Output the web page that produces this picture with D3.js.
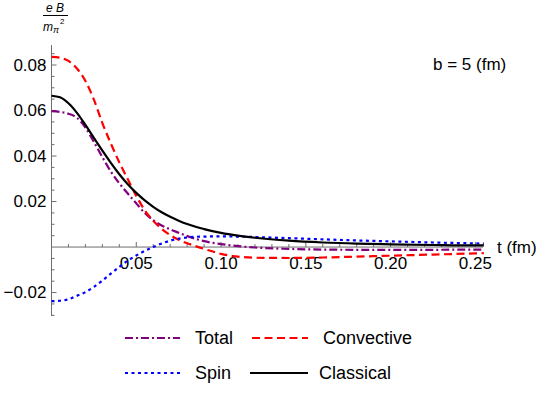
<!DOCTYPE html>
<html>
<head>
<meta charset="utf-8">
<script src="https://cdn.jsdelivr.net/npm/d3@7"></script>
<style>
  body { margin: 0; background: #fff; }
  svg text { font-family: "Liberation Sans", Arial, sans-serif; fill: #000; }
</style>
</head>
<body>
<svg id="chart" width="542" height="396"></svg>
<script>
// ---- data ----
const tValues      = [0, 0.005, 0.01, 0.015, 0.02, 0.025, 0.03, 0.035, 0.04, 0.045, 0.05, 0.055, 0.06, 0.065, 0.07, 0.075, 0.08, 0.085, 0.09, 0.10, 0.11, 0.12, 0.14, 0.16, 0.18, 0.20, 0.225, 0.25, 0.255];
const totalValues  = [0.0597, 0.0594, 0.0586, 0.0568, 0.0525, 0.0462, 0.0395, 0.0332, 0.0280, 0.0235, 0.0192, 0.0150, 0.0118, 0.0095, 0.0078, 0.0063, 0.0048, 0.0036, 0.0026, 0.0013, 0.0004, -0.0002, -0.0008, -0.0011, -0.0012, -0.0012, -0.0012, -0.0011, -0.0011];
const convValues   = [0.0836, 0.0832, 0.0818, 0.0785, 0.0730, 0.0648, 0.0545, 0.0455, 0.0372, 0.0298, 0.0225, 0.0162, 0.0116, 0.0080, 0.0053, 0.0032, 0.0017, 0.0004, -0.0008, -0.0030, -0.0042, -0.0047, -0.0048, -0.0046, -0.0042, -0.0038, -0.0033, -0.0028, -0.0027];
const spinValues   = [-0.0238, -0.0236, -0.0230, -0.0214, -0.0198, -0.0175, -0.0147, -0.0117, -0.0087, -0.0060, -0.0037, -0.0017, 0.0000, 0.0016, 0.0028, 0.0037, 0.0042, 0.0045, 0.0046, 0.0047, 0.0046, 0.0044, 0.0039, 0.0034, 0.0029, 0.0025, 0.0020, 0.0016, 0.0015];
const classValues  = [0.0665, 0.0658, 0.0632, 0.0590, 0.0537, 0.0480, 0.0424, 0.0370, 0.0320, 0.0276, 0.0238, 0.0205, 0.0177, 0.0153, 0.0133, 0.0116, 0.0101, 0.0089, 0.0079, 0.0062, 0.0050, 0.0041, 0.0028, 0.0020, 0.0015, 0.0012, 0.0009, 0.0007, 0.0007];

const xTickValues = [0.05, 0.10, 0.15, 0.20, 0.25];
const xTickLabels = ["0.05", "0.10", "0.15", "0.20", "0.25"];
const yTickValues = [-0.02, 0.02, 0.04, 0.06, 0.08];
const yTickLabels = ["\u22120.02", "0.02", "0.04", "0.06", "0.08"];

const seriesNames  = ["Total", "Convective", "Spin", "Classical"];
const seriesColors = ["#800080", "#ff0000", "#0000ff", "#000000"];
const seriesDash   = ["8,3,2,3", "8,4.5", "3,3.5", null];

// ---- layout ----
const svg = d3.select("#chart");
const x = d3.scaleLinear().domain([0, 0.2545]).range([51.5, 483]);
const y = d3.scaleLinear().domain([-0.0303, 0.0888]).range([316, 45]);
const axisColor = "#6e6e6e";

// axes lines
svg.append("line").attr("x1", x(0)).attr("x2", x(0.2545)).attr("y1", y(0)).attr("y2", y(0))
  .attr("stroke", axisColor).attr("stroke-width", 1);
svg.append("line").attr("x1", x(0)).attr("x2", x(0)).attr("y1", y(-0.0303)).attr("y2", y(0.0888))
  .attr("stroke", axisColor).attr("stroke-width", 1);

// x ticks (inside, pointing up)
const xMinor = d3.range(1, 26).map(i => i * 0.01);
svg.append("g").selectAll("line").data(xMinor).join("line")
  .attr("x1", d => x(d)).attr("x2", d => x(d))
  .attr("y1", y(0)).attr("y2", d => y(0) - (Math.abs(d * 20 - Math.round(d * 20)) < 1e-6 ? 5 : 3))
  .attr("stroke", axisColor).attr("stroke-width", 1);
svg.append("g").selectAll("text").data(xTickValues).join("text")
  .attr("x", d => x(d)).attr("y", y(0) + 16)
  .attr("text-anchor", "middle").attr("dominant-baseline", "central")
  .attr("font-size", 17).text((d, i) => xTickLabels[i]);

// y ticks (inside, pointing right)
const yMinor = d3.range(-6, 18).map(i => i * 0.005).filter(d => Math.abs(d) > 1e-9);
svg.append("g").selectAll("line").data(yMinor).join("line")
  .attr("y1", d => y(d)).attr("y2", d => y(d))
  .attr("x1", x(0)).attr("x2", d => x(0) + (Math.abs(d * 50 - Math.round(d * 50)) < 1e-6 ? 5 : 3))
  .attr("stroke", axisColor).attr("stroke-width", 1);
svg.append("g").selectAll("text").data(yTickValues).join("text")
  .attr("x", x(0) - 5).attr("y", d => y(d))
  .attr("text-anchor", "end").attr("dominant-baseline", "central")
  .attr("font-size", 17).text((d, i) => yTickLabels[i]);

// axis titles
svg.append("text").attr("x", 497).attr("y", y(0)).attr("dominant-baseline", "central")
  .attr("font-size", 17).text("t (fm)");

const yl = svg.append("g");
yl.append("text").attr("x", 55).attr("y", 12).attr("text-anchor", "middle")
  .attr("font-size", 12).attr("font-style", "italic").text("e B");
yl.append("line").attr("x1", 43).attr("x2", 68).attr("y1", 15.5).attr("y2", 15.5)
  .attr("stroke", "#000").attr("stroke-width", 1);
const ml = yl.append("text").attr("x", 43).attr("y", 31).attr("font-size", 12).attr("font-style", "italic");
ml.append("tspan").text("m");
ml.append("tspan").attr("font-size", 9).attr("dy", 2).text("\u03c0");
ml.append("tspan").attr("font-size", 8).attr("dy", -9).attr("dx", 1).attr("font-style", "normal").text("2");

svg.append("text").attr("x", 433).attr("y", 64).attr("dominant-baseline", "central")
  .attr("font-size", 17).text("b = 5 (fm)");

// curves
const allValues = [totalValues, convValues, spinValues, classValues];
const line = d3.line().x(d => x(d[0])).y(d => y(d[1])).curve(d3.curveMonotoneX);
allValues.forEach((vals, i) => {
  const pts = tValues.map((t, j) => [t, vals[j]]);
  svg.append("path").datum(pts).attr("d", line)
    .attr("fill", "none").attr("stroke", seriesColors[i]).attr("stroke-width", 2.2)
    .attr("stroke-dasharray", seriesDash[i]);
});

// legend
const legX = [[125, 180, 195], [252, 308, 323], [125, 180, 195], [250, 308, 319]];
const legY = [338, 338, 373, 373];
seriesNames.forEach((name, i) => {
  svg.append("line").attr("x1", legX[i][0]).attr("x2", legX[i][1])
    .attr("y1", legY[i]).attr("y2", legY[i])
    .attr("stroke", seriesColors[i]).attr("stroke-width", 2.2).attr("stroke-dasharray", seriesDash[i]);
  svg.append("text").attr("x", legX[i][2]).attr("y", legY[i]).attr("dominant-baseline", "central")
    .attr("font-size", 18).text(name);
});
</script>
</body>
</html>
